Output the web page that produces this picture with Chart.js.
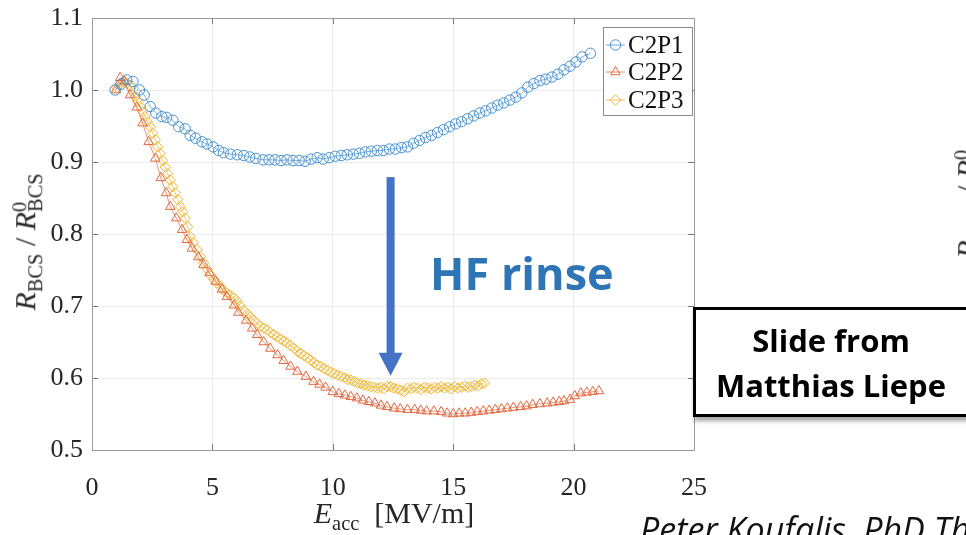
<!DOCTYPE html>
<html><head><meta charset="utf-8">
<script src="https://cdn.jsdelivr.net/npm/chart.js@4"></script>
<style>
html,body{margin:0;padding:0;background:#fff;}
body{width:966px;height:535px;overflow:hidden;position:relative;}
#c{position:absolute;left:0;top:0;}
.lab{position:absolute;font-family:'Liberation Serif',serif;font-size:30px;color:#262626;white-space:nowrap;line-height:1;}
.lab i{font-style:italic;}
.lab .sb{font-size:0.68em;vertical-align:-0.35em;}
.ss{display:inline-flex;flex-direction:column;font-size:0.68em;line-height:0.8;vertical-align:0.45em;text-align:left;}
.rot{transform:translate(-50%,-50%) rotate(-90deg);}
#note{position:absolute;left:693px;top:307px;width:276px;height:110px;box-sizing:border-box;border:3px solid #000;background:#fff;
 box-shadow:1px 4px 4px rgba(0,0,0,0.35);font-family:'Open Sans',sans-serif;font-weight:bold;font-size:31px;line-height:45px;text-align:center;color:#000;padding-top:8px;}
#cite{position:absolute;left:640px;top:512px;font-family:'Open Sans',sans-serif;font-style:italic;font-size:34px;line-height:1;color:#111;white-space:nowrap;}
</style>
</head><body>
<canvas id="c" width="966" height="535" style="width:966px;height:535px"></canvas>
<div class="lab rot" id="ylab" style="left:28px;top:242px"><i>R</i><span class="sb">BCS</span><span> / </span><i>R</i><span class="ss"><span>0</span><span>BCS</span></span></div>
<div class="lab" id="xlab" style="left:394px;top:516px;transform:translate(-50%,-50%)"><i>E</i><span class="sb">acc</span>&nbsp;&nbsp;[MV/m]</div>
<div class="lab rot" id="ylab2" style="left:970px;top:190px"><i>R</i><span class="sb">BCS</span><span> / </span><i>R</i><span class="ss"><span>0</span><span>BCS</span></span></div>
<div id="note">Slide from<br>Matthias Liepe</div>
<div id="cite">Peter Koufalis, PhD Thesis</div>
<script>
// ---------- data ----------
const seriesNames = ['C2P1', 'C2P2', 'C2P3'];
const xTickValues = [0, 5, 10, 15, 20, 25];
const xTickLabels = ['0', '5', '10', '15', '20', '25'];
const yTickValues = [0.5, 0.6, 0.7, 0.8, 0.9, 1.0, 1.1];
const yTickLabels = ['0.5', '0.6', '0.7', '0.8', '0.9', '1.0', '1.1'];

const c2p1X = [0.96,1.2,1.44,1.7,1.97,2.17,2.42,2.65,2.9,3.1,3.36,3.6,3.87,4.08,4.3,4.57,4.78,5.03,5.26,5.46,5.75,6.03,6.3,6.55,6.8,7.1,7.35,7.6,7.85,8.1,8.35,8.6,8.85,9.1,9.35,9.6,9.85,10.1,10.35,10.6,10.85,11.1,11.35,11.6,11.85,12.1,12.35,12.6,12.85,13.1,13.35,13.6,13.85,14.1,14.35,14.6,14.85,15.1,15.35,15.6,15.85,16.1,16.35,16.6,16.85,17.1,17.35,17.6,17.85,18.1,18.35,18.6,18.85,19.1,19.35,19.6,19.85,20.1,20.35,20.7];
const c2p1Y = [1.0,1.008,1.014,1.012,1.0,0.993,0.977,0.968,0.963,0.962,0.958,0.949,0.946,0.937,0.933,0.928,0.925,0.921,0.916,0.913,0.911,0.910,0.909,0.907,0.905,0.903,0.903,0.903,0.902,0.903,0.902,0.902,0.901,0.904,0.906,0.904,0.906,0.908,0.909,0.910,0.911,0.912,0.914,0.915,0.916,0.916,0.918,0.918,0.920,0.921,0.926,0.930,0.934,0.937,0.941,0.945,0.949,0.953,0.956,0.960,0.964,0.968,0.971,0.975,0.979,0.982,0.986,0.990,0.996,1.004,1.009,1.013,1.015,1.018,1.022,1.028,1.033,1.039,1.046,1.051];

const c2p2X = [1.0,1.17,1.35,1.58,1.86,2.1,2.35,2.63,2.86,3.08,3.25,3.5,3.74,3.94,4.15,4.42,4.63,4.88,5.13,5.4,5.6,5.9,6.08,6.4,6.65,6.86,7.13,7.4,7.7,7.96,8.25,8.53,8.88,9.2,9.45,9.7,10.0,10.25,10.5,10.75,11.0,11.25,11.5,11.75,12.0,12.25,12.55,12.8,13.1,13.4,13.65,13.9,14.2,14.5,14.75,15.0,15.25,15.5,15.75,16.0,16.25,16.5,16.75,17.0,17.25,17.5,17.8,18.05,18.3,18.6,18.9,19.15,19.4,19.6,19.85,20.05,20.3,20.55,20.8,21.05];
const c2p2Y = [1.0,1.017,1.012,0.993,0.976,0.954,0.928,0.905,0.878,0.857,0.838,0.822,0.806,0.792,0.780,0.768,0.757,0.746,0.734,0.723,0.713,0.701,0.691,0.680,0.669,0.660,0.650,0.641,0.632,0.624,0.616,0.609,0.602,0.595,0.591,0.587,0.581,0.578,0.576,0.574,0.572,0.569,0.567,0.565,0.562,0.560,0.558,0.557,0.556,0.556,0.555,0.554,0.554,0.553,0.551,0.550,0.551,0.551,0.552,0.553,0.554,0.555,0.556,0.557,0.558,0.559,0.560,0.561,0.563,0.564,0.565,0.566,0.567,0.568,0.570,0.575,0.579,0.580,0.581,0.582];

const c2p3X = [1.03,1.15,1.3,1.45,1.58,1.7,1.8,1.9,2.0,2.1,2.2,2.3,2.42,2.52,2.63,2.73,2.83,2.93,3.04,3.14,3.25,3.35,3.46,3.56,3.67,3.77,3.87,3.97,4.08,4.2,4.36,4.5,4.63,4.78,4.92,5.06,5.2,5.33,5.46,5.6,5.75,5.9,6.03,6.15,6.3,6.45,6.58,6.72,6.86,7.0,7.14,7.28,7.42,7.56,7.7,7.84,7.97,8.1,8.25,8.4,8.53,8.67,8.81,8.95,9.08,9.22,9.36,9.5,9.64,9.78,9.92,10.06,10.2,10.35,10.5,10.62,10.75,10.9,11.03,11.17,11.3,11.44,11.58,11.72,11.86,12.0,12.13,12.27,12.4,12.54,12.68,12.82,12.96,13.1,13.24,13.38,13.52,13.66,13.8,13.94,14.08,14.22,14.36,14.5,14.64,14.78,14.92,15.06,15.2,15.34,15.48,15.62,15.76,15.9,16.04,16.18,16.3];
const c2p3Y = [1.003,1.008,1.012,1.010,1.005,0.998,0.991,0.984,0.977,0.970,0.963,0.956,0.949,0.940,0.931,0.921,0.912,0.902,0.893,0.884,0.875,0.866,0.857,0.848,0.838,0.831,0.822,0.810,0.796,0.788,0.778,0.769,0.760,0.751,0.743,0.737,0.732,0.727,0.722,0.718,0.715,0.711,0.706,0.700,0.694,0.689,0.685,0.680,0.676,0.672,0.669,0.667,0.663,0.660,0.657,0.654,0.651,0.649,0.645,0.641,0.637,0.634,0.631,0.628,0.625,0.621,0.618,0.616,0.613,0.611,0.608,0.606,0.604,0.602,0.600,0.598,0.597,0.595,0.593,0.592,0.590,0.589,0.588,0.587,0.586,0.587,0.585,0.588,0.588,0.586,0.585,0.583,0.581,0.586,0.585,0.587,0.586,0.584,0.587,0.586,0.585,0.587,0.586,0.588,0.586,0.587,0.585,0.588,0.586,0.587,0.589,0.587,0.588,0.590,0.589,0.592,0.593];

// ---------- styling ----------
const colors = ['#4a92cf', '#e06a42', '#eeb834'];
const pointStyles = ['circle', 'triangle', 'rectRot'];
const pointRadii = [5.2, 5.5, 5.2];
const serif = "'Liberation Serif', 'Times New Roman', serif";

function pts(xs, ys) { return xs.map((x, i) => ({ x: x, y: ys[i] })); }
const seriesX = [c2p1X, c2p2X, c2p3X];
const seriesY = [c2p1Y, c2p2Y, c2p3Y];

const datasets = seriesNames.map((n, i) => ({
  label: n,
  data: pts(seriesX[i], seriesY[i]),
  showLine: true,
  borderColor: colors[i],
  borderWidth: 0.7,
  pointStyle: pointStyles[i],
  pointRadius: pointRadii[i],
  pointBorderColor: colors[i],
  pointBackgroundColor: 'rgba(0,0,0,0)',
  pointBorderWidth: 1,
  fill: false
}));

const frameColor = '#9a9a9a';

const framePlugin = {
  id: 'frame',
  afterDraw(chart) {
    const { ctx, chartArea: a, scales: { x, y } } = chart;
    ctx.save();
    ctx.strokeStyle = '#7a7a7a';
    ctx.lineWidth = 1;
    const tl = 6;
    ctx.beginPath();
    x.ticks.forEach(t => {
      const px = Math.round(x.getPixelForValue(t.value)) + 0.5;
      ctx.moveTo(px, a.bottom); ctx.lineTo(px, a.bottom - tl);
      ctx.moveTo(px, a.top); ctx.lineTo(px, a.top + tl);
    });
    y.ticks.forEach(t => {
      const py = Math.round(y.getPixelForValue(t.value)) + 0.5;
      ctx.moveTo(a.left, py); ctx.lineTo(a.left + tl, py);
      ctx.moveTo(a.right, py); ctx.lineTo(a.right - tl, py);
    });
    ctx.stroke();
    ctx.strokeStyle = frameColor;
    ctx.strokeRect(Math.round(a.left) + 0.5, Math.round(a.top) + 0.5, Math.round(a.right - a.left), Math.round(a.bottom - a.top));

    // legend (MATLAB style, inside the axes, top right)
    const lw = 89, lh = 88;
    const lx = a.right - 2 - lw, ly = a.top + 9;
    ctx.fillStyle = '#fff';
    ctx.fillRect(lx, ly, lw, lh);
    ctx.strokeStyle = '#8a8a8a';
    ctx.lineWidth = 1;
    ctx.strokeRect(Math.round(lx) + 0.5, Math.round(ly) + 0.5, lw, lh);
    const rowY = [18, 45, 73];
    chart.data.datasets.forEach((ds, i) => {
      const cy = ly + rowY[i];
      ctx.strokeStyle = ds.borderColor;
      ctx.lineWidth = 0.8;
      ctx.beginPath(); ctx.moveTo(lx + 3, cy); ctx.lineTo(lx + 22, cy); ctx.stroke();
      ctx.lineWidth = 1;
      ctx.fillStyle = 'rgba(0,0,0,0)';
      Chart.helpers.drawPoint(ctx, { pointStyle: ds.pointStyle, radius: ds.pointRadius, borderWidth: 1, rotation: 0 }, lx + 12.5, cy);
      ctx.fillStyle = '#111';
      ctx.font = '25px ' + serif;
      ctx.textBaseline = 'middle';
      ctx.textAlign = 'left';
      ctx.fillText(ds.label, lx + 25, cy + 1);
    });
    ctx.restore();
  }
};

const annotPlugin = {
  id: 'annot',
  afterDatasetsDraw(chart) {
    const { ctx, scales: { x, y } } = chart;
    ctx.save();
    // blue downward arrow
    const ax = x.getPixelForValue(12.4);
    const yTop = y.getPixelForValue(0.879);
    const yBase = y.getPixelForValue(0.635);
    const yTip = y.getPixelForValue(0.603);
    ctx.fillStyle = '#4472C4';
    ctx.fillRect(ax - 4, yTop, 8, yBase - yTop + 1);
    ctx.beginPath();
    ctx.moveTo(ax - 12, yBase); ctx.lineTo(ax + 12, yBase); ctx.lineTo(ax, yTip); ctx.closePath();
    ctx.fill();
    // label
    ctx.fillStyle = '#2E75B6';
    ctx.font = "bold 45px 'Open Sans', sans-serif";
    ctx.textBaseline = 'alphabetic';
    ctx.textAlign = 'left';
    ctx.fillText('HF rinse', x.getPixelForValue(14.04), y.getPixelForValue(0.722));
    ctx.restore();
  }
};

const bgPlugin = {
  id: 'bg',
  beforeDraw(chart) {
    const { ctx } = chart;
    ctx.save(); ctx.fillStyle = '#fff'; ctx.fillRect(0, 0, chart.width, chart.height); ctx.restore();
  }
};

new Chart(document.getElementById('c'), {
  type: 'scatter',
  data: { datasets: datasets },
  options: {
    responsive: false,
    animation: false,
    devicePixelRatio: 1,
    layout: { padding: { left: 0, right: 272, top: 18, bottom: 0 } },
    plugins: { legend: { display: false }, tooltip: { enabled: false } },
    scales: {
      x: {
        type: 'linear', min: 0, max: 25,
        afterBuildTicks: s => { s.ticks = xTickValues.map(v => ({ value: v })); },
        afterFit: s => { s.height = 85; s.paddingLeft = 0; s.paddingRight = 0; },
        ticks: {
          callback: v => xTickLabels[xTickValues.indexOf(v)],
          font: { family: serif, size: 26 }, color: '#262626', padding: 23, maxRotation: 0, autoSkip: false
        },
        grid: { color: '#ececec', drawTicks: false, lineWidth: 1 },
        border: { display: false }
      },
      y: {
        type: 'linear', min: 0.5, max: 1.1,
        afterBuildTicks: s => { s.ticks = yTickValues.map(v => ({ value: v })); },
        afterFit: s => { s.width = 92; s.paddingTop = 0; s.paddingBottom = 0; },
        ticks: {
          callback: v => yTickLabels[yTickValues.findIndex(t => Math.abs(t - v) < 1e-9)],
          font: { family: serif, size: 26 }, color: '#262626', padding: 9, autoSkip: false
        },
        grid: { color: '#ececec', drawTicks: false, lineWidth: 1 },
        border: { display: false }
      }
    }
  },
  plugins: [bgPlugin, annotPlugin, framePlugin]
});
</script>
</body></html>
